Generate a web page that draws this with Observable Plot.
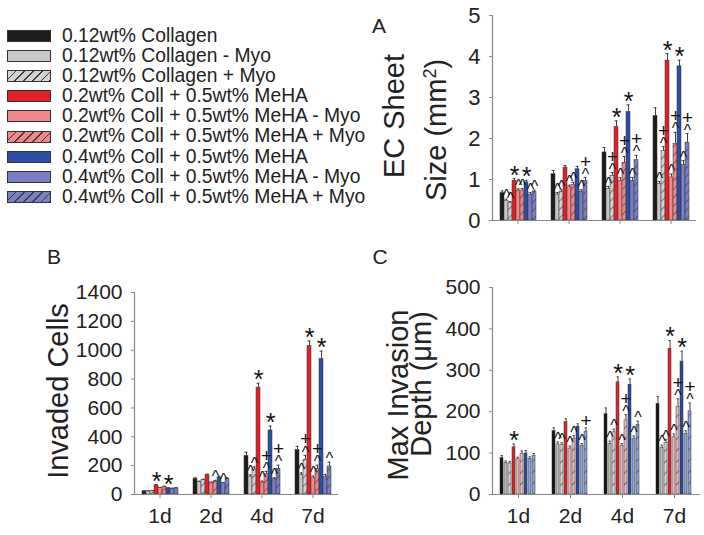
<!DOCTYPE html>
<html>
<head>
<meta charset="utf-8">
<script src="https://cdn.jsdelivr.net/npm/d3@7"></script>
<script src="https://cdn.jsdelivr.net/npm/@observablehq/plot@0.6"></script>
<style>
  html, body { margin: 0; padding: 0; background: #fff; }
  #root { position: relative; width: 704px; height: 535px; overflow: hidden; font-family: "Liberation Sans", Arial, sans-serif; color: #222; }
  .panel { position: absolute; }
  .panel svg { overflow: visible; }
  .ytitle { position: absolute; white-space: nowrap; font-size: 29px; line-height: 1; transform: translate(-50%, -50%) rotate(-90deg); }
  .letter { position: absolute; font-size: 21px; line-height: 1; transform: translate(-50%, -50%); }
  .legend { position: absolute; left: 7px; top: 26px; font-size: 19.3px; line-height: 20.1px; color: #222; }
  .legend .row { display: flex; align-items: center; height: 20.1px; }
  .legend .sw { width: 42px; height: 10px; border: 1px solid #333; margin-right: 11px; flex: none; }
</style>
</head>
<body>
<div id="root"></div>
<script>
// ---------- data ----------
const days = ["1d", "2d", "4d", "7d"];
const series = [
  "0.12wt% Collagen",
  "0.12wt% Collagen - Myo",
  "0.12wt% Collagen + Myo",
  "0.2wt% Coll + 0.5wt% MeHA",
  "0.2wt% Coll + 0.5wt% MeHA - Myo",
  "0.2wt% Coll + 0.5wt% MeHA + Myo",
  "0.4wt% Coll + 0.5wt% MeHA",
  "0.4wt% Coll + 0.5wt% MeHA - Myo",
  "0.4wt% Coll + 0.5wt% MeHA + Myo"
];

// Panel A: EC sheet size (mm^2), one row per day
const sheetSize = [
  [0.67, 0.48, 0.42, 0.97, 0.73, 0.73, 0.93, 0.63, 0.70],
  [1.13, 0.63, 0.70, 1.29, 0.81, 0.87, 1.25, 0.70, 0.97],
  [1.66, 0.77, 1.09, 2.28, 0.97, 1.41, 2.65, 0.97, 1.47],
  [2.55, 0.89, 1.70, 3.90, 1.05, 1.87, 3.76, 1.36, 1.90]
];
const sheetSizeErr = [
  [0.05, 0.04, 0.04, 0.05, 0.04, 0.05, 0.05, 0.05, 0.04],
  [0.09, 0.05, 0.05, 0.05, 0.05, 0.06, 0.07, 0.05, 0.08],
  [0.12, 0.06, 0.08, 0.15, 0.07, 0.15, 0.17, 0.08, 0.12],
  [0.20, 0.06, 0.10, 0.17, 0.08, 0.28, 0.15, 0.10, 0.22]
];
// significance marks: "*", "^", "+" (alone) or "+^" (plus stacked above caret)
const sheetSizeSig = [
  ["", "^", "^", "*", "^", "^", "*", "^", "^"],
  ["", "^", "^", "", "^", "^", "", "^", "+^"],
  ["", "^", "+^", "*", "^", "+^", "*", "^", "+^"],
  ["", "^", "+^", "*", "^", "+^", "*", "^", "+^"]
];

// Panel B: invaded cells
const invaded = [
  [22, 22, 25, 63, 45, 52, 43, 40, 43],
  [108, 86, 100, 135, 80, 90, 117, 77, 108],
  [268, 124, 173, 741, 83, 140, 444, 106, 178],
  [309, 135, 241, 1029, 113, 178, 939, 124, 194]
];
const invadedErr = [
  [3, 3, 3, 6, 4, 5, 4, 4, 4],
  [8, 6, 6, 6, 6, 8, 8, 6, 8],
  [25, 12, 18, 30, 10, 20, 30, 10, 25],
  [25, 15, 30, 35, 15, 25, 55, 15, 30]
];
const invadedSig = [
  ["", "", "", "*", "", "", "*", "", ""],
  ["", "", "", "", "", "^", "", "^", ""],
  ["", "^", "^", "*", "^", "+^", "*", "^", "+^"],
  ["", "^", "+^", "*", "^", "+^", "*", "", "^"]
];

// Panel C: max invasion depth (um)
const depth = [
  [88, 76, 75, 114, 85, 98, 99, 86, 93],
  [153, 121, 119, 175, 111, 134, 164, 117, 152],
  [194, 122, 150, 271, 117, 179, 265, 134, 168],
  [219, 113, 125, 352, 138, 211, 321, 146, 201]
];
const depthErr = [
  [6, 5, 5, 8, 5, 7, 7, 5, 6],
  [8, 6, 6, 8, 6, 8, 7, 6, 9],
  [15, 7, 8, 13, 6, 14, 14, 7, 9],
  [18, 6, 8, 20, 8, 20, 25, 8, 20]
];
const depthSig = [
  ["", "", "", "*", "", "", "", "", ""],
  ["", "^", "^", "", "^", "^", "", "^", "+"],
  ["", "^", "^", "*", "^", "+^", "*", "^", "^"],
  ["", "^", "^", "*", "^", "+^", "*", "^", "+^"]
];

const yTicksA = [0, 1, 2, 3, 4, 5];
const yTicksB = [0, 200, 400, 600, 800, 1000, 1200, 1400];
const yTicksC = [0, 100, 200, 300, 400, 500];

// ---------- styles ----------
const baseColorsAB = ["#1c1c1c", "#c8c8c8", "#d2d2d2", "#e2202a", "#f0878a", "#f0878a", "#2c4ea3", "#7a7ec2", "#7a7ec2"];
const baseColorsC  = ["#141414", "#bdbdbd", "#d6d6d6", "#d8262b", "#ecb8bc", "#ecb8bc", "#2b4a9e", "#8ca3d6", "#8ca3d6"];
const hatched = [false, false, true, false, false, true, false, false, true];

function buildRows(values, errs, sigs) {
  return days.flatMap((d, i) => series.map((s, j) => ({
    day: d, series: s, idx: j, value: values[i][j], err: errs[i][j], sig: sigs[i][j]
  })));
}

function patternDefs(id, colors, spacing) {
  return [2, 5, 8].map(j => `
    <pattern id="${id}-h${j}" patternUnits="userSpaceOnUse" width="${spacing}" height="${spacing}" patternTransform="rotate(45)">
      <rect width="${spacing}" height="${spacing}" fill="${colors[j]}"></rect>
      <line x1="0" y1="0" x2="0" y2="${spacing}" stroke="#3a3a3a" stroke-width="1.2"></line>
    </pattern>`).join("");
}

function panel(opts) {
  const rows = buildRows(opts.values, opts.errs, opts.sigs);
  const top = d => d.value + d.err;
  const fillFor = d => hatched[d.idx] ? `url(#${opts.id}-h${d.idx})` : opts.colors[d.idx];
  const stars = rows.filter(d => d.sig === "*");
  const carets = rows.filter(d => d.sig.includes("^"));
  const plusStacked = rows.filter(d => d.sig === "+^");
  const plusAlone = rows.filter(d => d.sig === "+");
  const svg = Plot.plot({
    width: opts.width,
    height: opts.height,
    marginTop: opts.marginTop,
    marginBottom: opts.marginBottom,
    marginLeft: opts.marginLeft,
    marginRight: opts.marginRight,
    style: { fontFamily: '"Liberation Sans", Arial, sans-serif', color: "#222", background: "transparent", overflow: "visible" },
    fx: { domain: days, padding: 0, label: null, axis: null },
    x: { domain: series, padding: opts.barPad, paddingOuter: 1.15, axis: null },
    y: { domain: [0, opts.ymax], label: null, axis: null },
    color: { type: "identity" },
    marks: [
      Plot.axisY({ ticks: opts.yTicks, tickSize: 3, tickPadding: 9, label: null, fontSize: opts.yFont, stroke: "#888", fill: "#222", tickFormat: d => String(d) }),
      Plot.axisFx({ anchor: "bottom", tickSize: 4, tickPadding: 10, label: null, fontSize: 21, stroke: "#888", fill: "#222", tickFormat: opts.xLabels ? (d => d) : (() => "") }),
      Plot.barY(rows, { fx: "day", x: "series", y: "value", fill: fillFor, stroke: "#333", strokeWidth: 0.5 }),
      Plot.ruleX(rows, { fx: "day", x: "series", y1: "value", y2: top, stroke: "#444", strokeWidth: 1 }),
      Plot.tickY(rows, { fx: "day", x: "series", y: top, stroke: "#444", strokeWidth: 1, insetLeft: 0.5, insetRight: 0.5 }),
      Plot.ruleY([0], { stroke: "#888", strokeWidth: 1.2 }),
      Plot.frame({ anchor: "left", facetAnchor: "left", stroke: "#888", strokeWidth: 1.2 }),
      Plot.text(stars, { fx: "day", x: "series", y: top, text: () => "*", lineAnchor: "middle", dy: -3, fontSize: 25, fill: "#111" }),
      Plot.text(carets, { fx: "day", x: "series", y: top, text: () => "^", lineAnchor: "middle", dy: -3, fontSize: 16, fill: "#111" }),
      Plot.text(plusStacked, { fx: "day", x: "series", y: top, text: () => "+", lineAnchor: "middle", dy: -16, fontSize: 19, fill: "#111" }),
      Plot.text(plusAlone, { fx: "day", x: "series", y: top, text: () => "+", lineAnchor: "middle", dy: -7, fontSize: 19, fill: "#111" })
    ]
  });
  d3.select(svg).insert("defs", ":first-child").html(patternDefs(opts.id, opts.colors, opts.hatchSpacing));
  const wrap = document.createElement("div");
  wrap.className = "panel";
  wrap.style.left = opts.left + "px";
  wrap.style.top = opts.top + "px";
  wrap.appendChild(svg);
  document.getElementById("root").appendChild(wrap);
}

panel({
  id: "pA", values: sheetSize, errs: sheetSizeErr, sigs: sheetSizeSig, colors: baseColorsAB,
  left: 360, top: 0, width: 344, height: 240, marginTop: 15, marginBottom: 20, marginLeft: 131, marginRight: 8,
  ymax: 5, yTicks: yTicksA, yFont: 22, xLabels: false, barPad: 0.04, hatchSpacing: 6
});
panel({
  id: "pB", values: invaded, errs: invadedErr, sigs: invadedSig, colors: baseColorsAB,
  left: 0, top: 270, width: 352, height: 265, marginTop: 22, marginBottom: 41, marginLeft: 133, marginRight: 13,
  ymax: 1400, yTicks: yTicksB, yFont: 21, xLabels: true, barPad: 0.04, hatchSpacing: 6
});
panel({
  id: "pC", values: depth, errs: depthErr, sigs: depthSig, colors: baseColorsC,
  left: 360, top: 270, width: 344, height: 265, marginTop: 17, marginBottom: 41, marginLeft: 131, marginRight: 4,
  ymax: 500, yTicks: yTicksC, yFont: 21, xLabels: true, barPad: 0.14, hatchSpacing: 8
});

// ---------- titles, letters, legend ----------
const root = document.getElementById("root");
function addText(cls, html, x, y) {
  const el = document.createElement("div");
  el.className = cls;
  el.innerHTML = html;
  el.style.left = x + "px";
  el.style.top = y + "px";
  root.appendChild(el);
}
addText("ytitle", "EC Sheet", 394, 116);
addText("ytitle", "Size (mm<sup style=\"font-size:18px;vertical-align:0.55em;line-height:0\">2</sup>)", 436, 130);
addText("ytitle", "Invaded Cells", 58, 391);
addText("ytitle", "Max Invasion", 398, 395);
addText("ytitle", "Depth (\u03bcm)", 421, 384);
addText("letter", "A", 379, 25);
addText("letter", "B", 54, 256);
addText("letter", "C", 380, 256);

const legend = document.createElement("div");
legend.className = "legend";
series.forEach((s, j) => {
  const row = document.createElement("div");
  row.className = "row";
  const sw = document.createElement("div");
  sw.className = "sw";
  const c = baseColorsAB[j];
  sw.style.background = hatched[j]
    ? `repeating-linear-gradient(135deg, ${c} 0px, ${c} 5px, #3a3a3a 5px, #3a3a3a 6.2px)`
    : c;
  const label = document.createElement("span");
  label.textContent = s;
  row.appendChild(sw);
  row.appendChild(label);
  legend.appendChild(row);
});
root.appendChild(legend);
</script>
</body>
</html>
